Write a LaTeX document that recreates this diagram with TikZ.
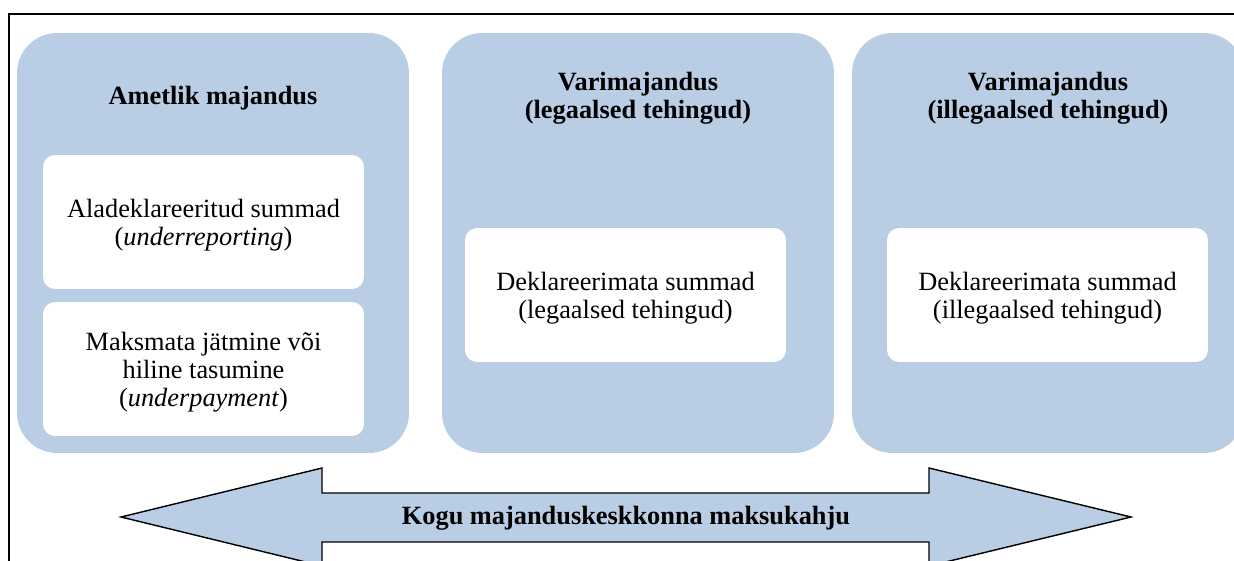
\documentclass[tikz,border=0pt]{standalone}
\usepackage{fontspec}
\setmainfont{Liberation Serif}
\usetikzlibrary{positioning}
\definecolor{panelblue}{HTML}{B9CDE5}

\begin{document}
\begin{tikzpicture}[x=0.02cm, y=-0.02cm,
  every node/.style={align=center, font=\fontsize{15}{16}\selectfont},
  panel/.style={fill=panelblue, rounded corners=0.8cm, minimum width=7.84cm, minimum height=8.4cm, inner sep=0pt},
  inbox/.style={fill=white, rounded corners=0.24cm, minimum width=6.42cm, minimum height=2.68cm, inner sep=0pt, text depth=0pt},
  title/.style={font=\fontsize{15}{16}\selectfont\bfseries}]
\useasboundingbox (0,0) rectangle (1234,561);
\draw[line width=1.1pt] (9,14) rectangle (1270,620);
% three panels
\node (P1) [panel] at (213,243) {};
\node (P2) [panel] at (638,243) {};
\node (P3) [panel] at (1048,243) {};
\node (T1) [title] at (213,98) {Ametlik majandus};
\node (T2) [title] at (638,98) {Varimajandus\\(legaalsed tehingud)};
\node (T3) [title] at (1048,98) {Varimajandus\\(illegaalsed tehingud)};
% inner boxes
\node (A) [inbox] at (203.5,222) {Aladeklareeritud summad\\(\textit{underreporting})};
\node (B) [inbox] at (203.5,369) {Maksmata jätmine või\\hiline tasumine\\(\textit{underpayment})};
\node (C) [inbox] at (625.5,295) {Deklareerimata summad\\(legaalsed tehingud)};
\node (D) [inbox] at (1047.5,295) {Deklareerimata summad\\(illegaalsed tehingud)};
% double arrow
\draw[fill=panelblue, line width=0.8pt] (121,517) -- (322,468) -- (322,493) -- (929,493) -- (929,468)
  -- (1131,517) -- (929,566) -- (929,542) -- (322,542) -- (322,566) -- cycle;
\node (K) [title] at (626,518) {Kogu majanduskeskkonna maksukahju};
\end{tikzpicture}
\end{document}
